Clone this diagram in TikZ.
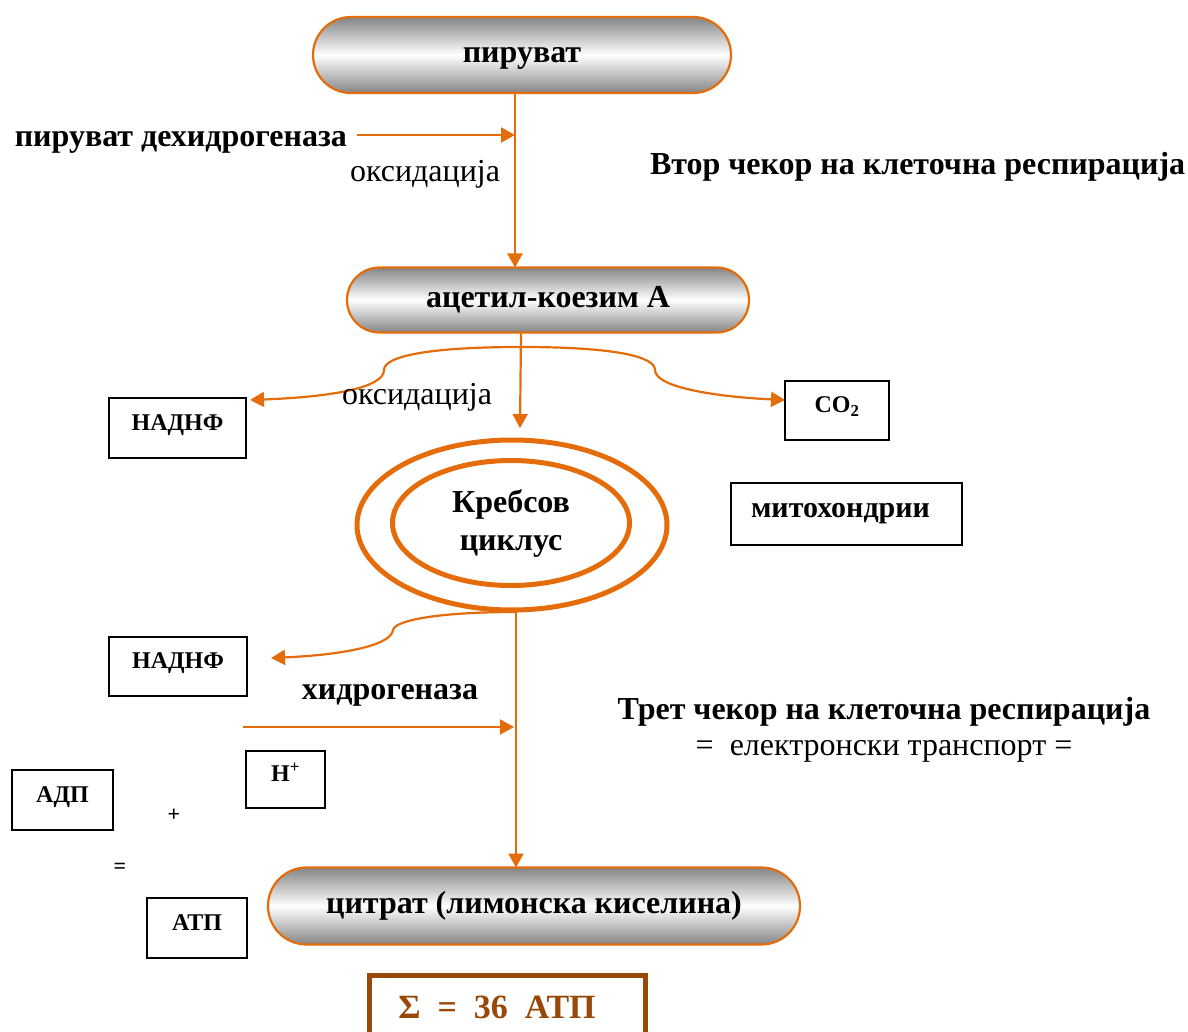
\documentclass[tikz,border=0pt]{standalone}
\usepackage{fontspec}
\setmainfont{Liberation Serif}
\usetikzlibrary{shapes.geometric,shapes.misc,arrows.meta}
\definecolor{orng}{HTML}{E46C0A}
\definecolor{brn}{HTML}{984807}

\begin{document}
\begin{tikzpicture}[x=1pt,y=-1pt,
  every node/.style={inner sep=0pt, outer sep=0pt},
  % text heights/depths are fixed so the lettering sits where it should in each node
  plain/.style={font=\fontsize{32}{38}\selectfont, text height=14.7pt, text depth=0pt},
  big/.style={font=\fontsize{32}{38}\selectfont\bfseries, text height=14.7pt, text depth=0pt},
  pill/.style={rounded rectangle, draw=orng, line width=2.2pt,
    top color=black!48, bottom color=black!48, middle color=white,
    font=\fontsize{32}{38}\selectfont\bfseries, text height=14.7pt, text depth=0pt},
  conn/.style={draw=orng, line width=2.2pt, -{Triangle[length=14pt,width=15pt]}},
  boxed/.style={draw=black, line width=1.5pt, font=\fontsize{24}{28}\selectfont\bfseries,
    text height=11pt, text depth=7pt},
  small/.style={font=\fontsize{22}{26}\selectfont\bfseries},
  ring/.style={ellipse, draw=orng, line width=5pt}
]
\useasboundingbox (0,0) rectangle (1188,1032);

% --- pyruvate and its oxidation
\node[pill, minimum width=418pt, minimum height=76pt] (pyr) at (522,55) {пируват};
\node[big, anchor=east] (pdh) at (347,139.5) {пируват дехидрогеназа};
\coordinate (a0) at (357,135);
\coordinate (a1) at (515,135);
\draw[conn] (a0) -- (a1);
\node[plain] (ox1) at (425,174.5) {оксидација};
\node[big, anchor=west] (step2) at (650,167) {Втор чекор на клеточна респирација};

% --- acetyl-CoA
\node[pill, minimum width=402pt, minimum height=65pt] (acet) at (548,300) {ацетил-коезим А};
\draw[conn] ([xshift=-7pt]pyr.south) -- ([xshift=-33pt]acet.north);

% --- side products
\node[boxed, minimum width=137pt, minimum height=60pt] (nadh1) at (177.5,428) {НАДНФ};
\node[boxed, minimum width=104pt, minimum height=59pt] (co2) at (837,410.5) {CO\textsubscript{2}};
\node[boxed, minimum width=231pt, minimum height=62pt, font=\fontsize{30}{36}\selectfont\bfseries,
  text height=13.7pt, text depth=6pt] (mito) at (846.5,514) {\hspace*{-12pt}митохондрии};

% --- Krebs cycle
\node[ring, minimum width=310pt, minimum height=170pt] (krebs) at (512,525) {};
\node[ring, minimum width=237pt, minimum height=125pt, align=center,
  font=\fontsize{32}{38}\selectfont\bfseries] (krin) at (511,523) {Кребсов\\циклус};
\coordinate (k1) at (520,428);
\draw[conn] ([xshift=-27pt]acet.south) -- (k1);

% brace splitting off NADH and CO2
\coordinate (b0) at (521,347);
\coordinate (bl) at (250,400);
\draw[conn] (b0) .. controls (430,347) and (384,356) .. (384,370)
  .. controls (384,388) and (330,397) .. (bl);
\draw[conn] (b0) .. controls (612,347) and (655,356) .. (655,370)
  .. controls (655,388) and (720,397) .. (co2.west |- bl);
\node[plain] (ox2) at (417,397) {оксидација};

% --- citrate
\node[pill, minimum width=532pt, minimum height=77pt] (cit) at (534,906) {цитрат (лимонска киселина)};
\draw[conn] ([xshift=4pt]krebs.south) -- ([xshift=-18pt]cit.north);

\node[boxed, minimum width=138pt, minimum height=59pt] (nadh2) at (178,666.5) {НАДНФ};
\coordinate (c0) at (516,612);
\coordinate (c1) at (271,658);
\draw[conn] (c0) .. controls (440,612) and (395,620) .. (393,630)
  .. controls (391,646) and (340,655) .. (c1);
\node[big] (hyd) at (390,692) {хидрогеназа};
\coordinate (h0) at (243,727);
\coordinate (h1) at (514,727);
\draw[conn] (h0) -- (h1);

% --- ATP synthesis
\node[boxed, minimum width=79pt, minimum height=57pt] (hplus) at (285.5,779.5) {H\textsuperscript{+}};
\node[boxed, minimum width=101pt, minimum height=60pt] (adp) at (62.5,800) {АДП};
\node[small] (plus) at (174,815) {+};
\node[small] (eq) at (120,868) {=};
\node[boxed, minimum width=100pt, minimum height=60pt] (atp) at (197,928) {АТП};

\node[big] (step3) at (884,712) {Трет чекор на клеточна респирација};
\node[plain] (etr) at (884,748) {=\ \ електронски транспорт =};

% --- total yield
\node[draw=brn, line width=5pt, minimum width=276pt, minimum height=80pt, anchor=north] (sum) at (507.5,975.5) {};
\node[text=brn, font=\fontsize{34}{40}\selectfont\bfseries] (sumtxt) at (497,1007) {Σ\ \ =\ \ 36\ \ АТП};
\end{tikzpicture}
\end{document}
